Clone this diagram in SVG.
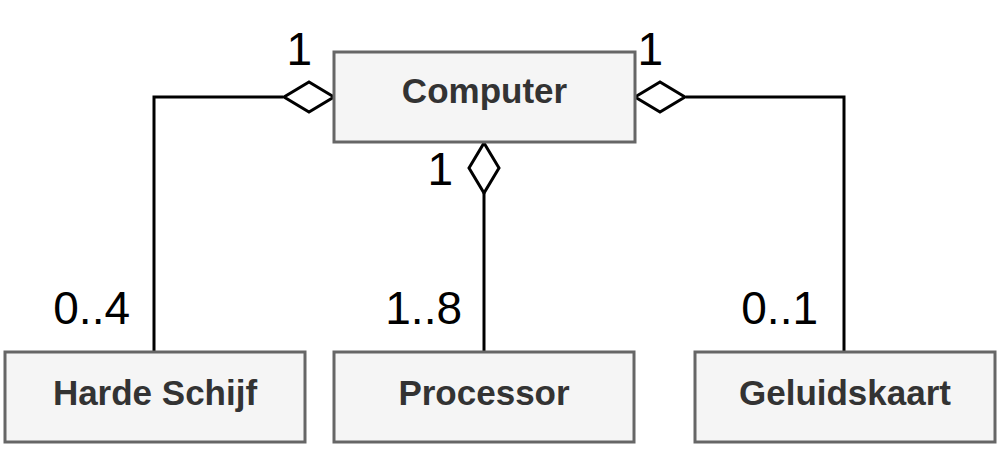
<svg xmlns="http://www.w3.org/2000/svg" width="1002" height="450" viewBox="0 0 1002 450">
<style>
.box{fill:#f5f5f5;stroke:#666666;stroke-width:3}
.lbl{font-family:"Liberation Sans",Arial,sans-serif;font-weight:bold;font-size:35px;fill:#333333;text-anchor:middle}
.edge{fill:none;stroke:#000000;stroke-width:3}
.dia{fill:#ffffff;stroke:#000000;stroke-width:3}
.mult{font-family:"Liberation Sans",Arial,sans-serif;font-size:46px;fill:#000000}
</style>
<rect width="1002" height="450" fill="#ffffff"/>
<g id="connectors">
<path class="edge" d="M283 97 H154 V352"/>
<path class="dia" d="M334 97 L309 82 L284 97 L309 112 Z"/>
<path class="edge" d="M686 97 H844 V352"/>
<path class="dia" d="M635 97 L660 82 L685 97 L660 112 Z"/>
<path class="edge" d="M484 193 V352"/>
<path class="dia" d="M484 143 L499 168 L484 193 L469 168 Z"/>
<text class="mult" x="312" y="65" text-anchor="end">1</text>
<text class="mult" x="130" y="324" text-anchor="end">0..4</text>
<text class="mult" x="663" y="65" text-anchor="end">1</text>
<text class="mult" x="818" y="324" text-anchor="end">0..1</text>
<text class="mult" x="453" y="185" text-anchor="end">1</text>
<text class="mult" x="462" y="324" text-anchor="end">1..8</text>
</g>
<g id="computer">
<rect class="box" x="334" y="52" width="301" height="90"/>
<text class="lbl" x="484.5" y="103">Computer</text>
</g>
<g id="harde-schijf">
<rect class="box" x="5" y="352" width="300" height="90"/>
<text class="lbl" x="155" y="405">Harde Schijf</text>
</g>
<g id="processor">
<rect class="box" x="334" y="352" width="300" height="90"/>
<text class="lbl" x="484" y="405">Processor</text>
</g>
<g id="geluidskaart">
<rect class="box" x="695" y="352" width="300" height="90"/>
<text class="lbl" x="845" y="405">Geluidskaart</text>
</g>
</svg>
